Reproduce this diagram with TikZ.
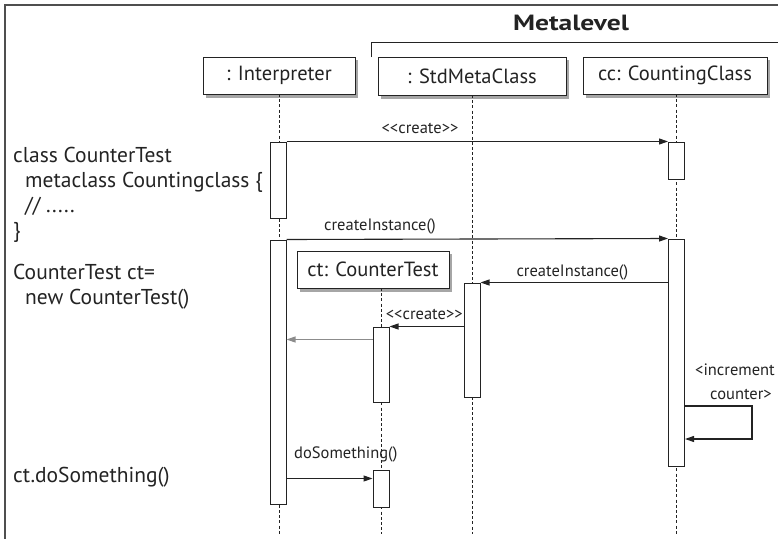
\documentclass[tikz,border=0pt]{standalone}
\usepackage{fontspec}
\setmainfont{PT Sans}
\newfontfamily\metafont[FakeStretch=1.25]{PT Sans}
\usetikzlibrary{arrows.meta}
\definecolor{ink}{RGB}{35,35,35}
\newcommand{\lt}{\mbox{<}}
\newcommand{\gt}{\mbox{>}}
\tikzset{
  obj/.style={draw=ink, line width=1pt, fill=white, inner sep=0pt, minimum height=37pt,
    font=\fontsize{20.5}{22}\selectfont, text=ink},
  shadowbox/.style={fill=black!35, draw=none},
  act/.style={draw=ink, line width=1pt, fill=white, inner sep=0pt, minimum width=16pt},
  life/.style={draw=ink, line width=0.8pt, dash pattern=on 3pt off 2.2pt},
  msg/.style={draw=ink, line width=1.1pt, -{Triangle[length=9pt,width=6pt]}},
  retmsg/.style={draw=black!45, line width=1.1pt, -{Triangle[length=9pt,width=6pt]}},
  lbl/.style={font=\fontsize{16.5}{18}\selectfont, text=ink, inner sep=0pt, anchor=base},
  code/.style={font=\fontsize{21.5}{25}\selectfont, text=ink, anchor=base west, inner sep=0pt}
}
\begin{document}
\begin{tikzpicture}[x=1pt,y=-1pt]
\useasboundingbox (0,0) rectangle (778,538);
% frame
\draw[ink!80, line width=1.4pt] (5,540) -- (5,5) -- (780,5);
% metalevel bracket
\draw[ink, line width=1pt] (371,57) -- (371,42) -- (780,42);
\node[font=\metafont\fontsize{22}{24}\selectfont\bfseries, text=ink, anchor=base, inner sep=0pt] (meta) at (571,30) {Metalevel};

% shadows
\fill[shadowbox] (206,60) rectangle (358,98);
\fill[shadowbox] (381,60) rectangle (569,99);
\fill[shadowbox] (586,60) rectangle (770,98);
\fill[shadowbox] (300,254) rectangle (452,292);

% lifelines
\draw[life] (279,94) -- (279,534);
\draw[life] (472.5,95) -- (472.5,534);
\draw[life] (676.5,94) -- (676.5,534);
\draw[life] (381,288) -- (381,534);

% objects
\node[obj, minimum width=152pt] (interp) at (279,75.5) {: Interpreter};
\node[obj, minimum width=188pt, minimum height=38pt] (std) at (472,76) {: StdMetaClass};
\node[obj, minimum width=184pt] (cc) at (675,75.5) {cc: CountingClass};
\node[obj, minimum width=152pt] (ct) at (373,269.5) {ct: CounterTest};

% activations
\node[act, minimum height=76pt] (i1) at (278,180) {};
\node[act, minimum height=264pt] (i2) at (278,372) {};
\node[act, minimum height=37pt] (c1) at (676.5,160.5) {};
\node[act, minimum height=227pt] (c2) at (676.5,352.5) {};
\node[act, minimum height=114pt] (s1) at (472,340) {};
\node[act, minimum height=75pt] (t1) at (381,364.5) {};
\node[act, minimum height=37pt] (t2) at (381,488.5) {};

% messages
\draw[msg] (i1.north east) -- node[lbl, yshift=8pt, pos=0.35] {\lt\lt create\gt\gt} (c1.north west);
\draw[msg] (i2.north east) -- node[lbl, yshift=9pt, pos=0.245] {createInstance()} (c2.north west);
\draw[msg] (c2.west |- s1.north) -- node[lbl, yshift=6pt, pos=0.51] {createInstance()} (s1.north east);
\draw[msg] (s1.west |- t1.north) -- node[lbl, yshift=7pt, pos=0.53] {\lt\lt create\gt\gt} (t1.north east);
\draw[retmsg] ([yshift=-13pt]t1.north west) -- ([yshift=-13pt]t1.north west -| i2.east);
\draw[msg] ([yshift=-9pt]t2.north west -| i2.east) -- node[lbl, yshift=20pt, pos=0.69] {doSomething()} ([yshift=-9pt]t2.north west);
\coordinate (sa) at (752,406);
\coordinate (sb) at (752,439);
\draw[msg] (c2.east |- sa) -- (sa) -- (sb) -- (c2.east |- sb);
\node[lbl, anchor=base east] (inc1) at (775,375) {\lt increment};
\node[lbl] (inc2) at (741,399) {counter\gt};

% code text
\node[code] (l1) at (13,162) {class CounterTest};
\node[code] (l2) at (25,187) {metaclass Countingclass \{};
\node[code] (l3) at (25,212) {// .....};
\node[code] (l4) at (13,237) {\}};
\node[code] (l5) at (13,279) {CounterTest ct=};
\node[code] (l6) at (25,304) {new CounterTest()};
\node[code] (l7) at (13,482) {ct.doSomething()};
\end{tikzpicture}
\end{document}
